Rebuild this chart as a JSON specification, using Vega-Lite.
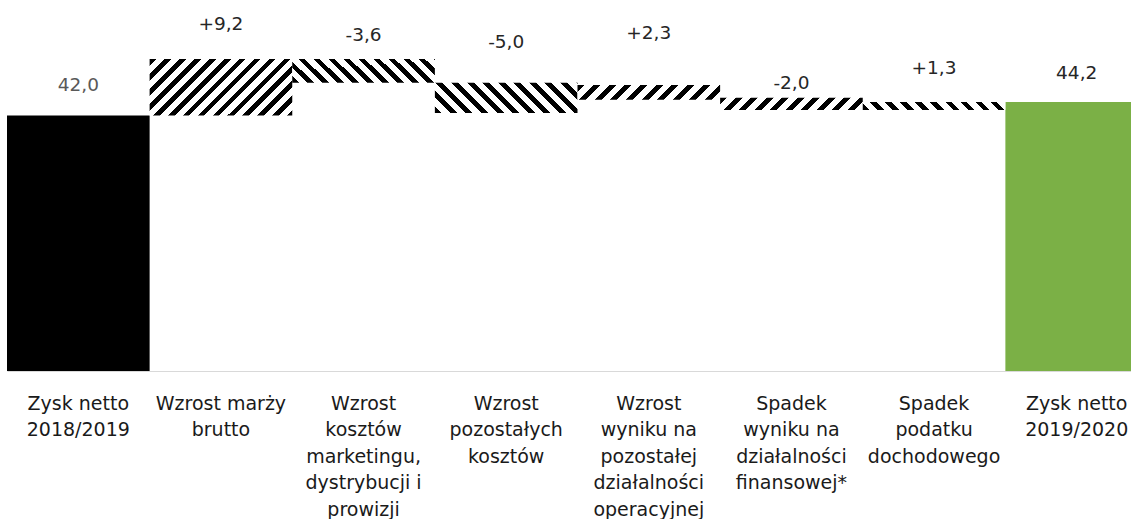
{
  "$schema": "https://vega.github.io/schema/vega-lite/v6.json",
  "width": 1141,
  "height": 365,
  "padding": {"left": 7, "top": 6, "right": 0, "bottom": 0},
  "background": "white",
  "config": {"view": {"stroke": null}, "axis": {"grid": false}},
  "params": [
    {"name": "st10", "value": [
      {"offset":0,"color":"#000"},{"offset":0.045,"color":"#000"},{"offset":0.045,"color":"#fff"},{"offset":0.1,"color":"#fff"},
      {"offset":0.1,"color":"#000"},{"offset":0.145,"color":"#000"},{"offset":0.145,"color":"#fff"},{"offset":0.2,"color":"#fff"},
      {"offset":0.2,"color":"#000"},{"offset":0.245,"color":"#000"},{"offset":0.245,"color":"#fff"},{"offset":0.3,"color":"#fff"},
      {"offset":0.3,"color":"#000"},{"offset":0.345,"color":"#000"},{"offset":0.345,"color":"#fff"},{"offset":0.4,"color":"#fff"},
      {"offset":0.4,"color":"#000"},{"offset":0.445,"color":"#000"},{"offset":0.445,"color":"#fff"},{"offset":0.5,"color":"#fff"},
      {"offset":0.5,"color":"#000"},{"offset":0.545,"color":"#000"},{"offset":0.545,"color":"#fff"},{"offset":0.6,"color":"#fff"},
      {"offset":0.6,"color":"#000"},{"offset":0.645,"color":"#000"},{"offset":0.645,"color":"#fff"},{"offset":0.7,"color":"#fff"},
      {"offset":0.7,"color":"#000"},{"offset":0.745,"color":"#000"},{"offset":0.745,"color":"#fff"},{"offset":0.8,"color":"#fff"},
      {"offset":0.8,"color":"#000"},{"offset":0.845,"color":"#000"},{"offset":0.845,"color":"#fff"},{"offset":0.9,"color":"#fff"},
      {"offset":0.9,"color":"#000"},{"offset":0.945,"color":"#000"},{"offset":0.945,"color":"#fff"},{"offset":1,"color":"#fff"}
    ]},
    {"name": "st09", "value": [
      {"offset":0,"color":"#000"},{"offset":0.04,"color":"#000"},{"offset":0.04,"color":"#fff"},{"offset":0.09,"color":"#fff"},
      {"offset":0.09,"color":"#000"},{"offset":0.13,"color":"#000"},{"offset":0.13,"color":"#fff"},{"offset":0.18,"color":"#fff"},
      {"offset":0.18,"color":"#000"},{"offset":0.22,"color":"#000"},{"offset":0.22,"color":"#fff"},{"offset":0.27,"color":"#fff"},
      {"offset":0.27,"color":"#000"},{"offset":0.31,"color":"#000"},{"offset":0.31,"color":"#fff"},{"offset":0.36,"color":"#fff"},
      {"offset":0.36,"color":"#000"},{"offset":0.4,"color":"#000"},{"offset":0.4,"color":"#fff"},{"offset":0.45,"color":"#fff"},
      {"offset":0.45,"color":"#000"},{"offset":0.49,"color":"#000"},{"offset":0.49,"color":"#fff"},{"offset":0.54,"color":"#fff"},
      {"offset":0.54,"color":"#000"},{"offset":0.58,"color":"#000"},{"offset":0.58,"color":"#fff"},{"offset":0.63,"color":"#fff"},
      {"offset":0.63,"color":"#000"},{"offset":0.67,"color":"#000"},{"offset":0.67,"color":"#fff"},{"offset":0.72,"color":"#fff"},
      {"offset":0.72,"color":"#000"},{"offset":0.76,"color":"#000"},{"offset":0.76,"color":"#fff"},{"offset":0.81,"color":"#fff"},
      {"offset":0.81,"color":"#000"},{"offset":0.85,"color":"#000"},{"offset":0.85,"color":"#fff"},{"offset":0.9,"color":"#fff"},
      {"offset":0.9,"color":"#000"},{"offset":0.94,"color":"#000"},{"offset":0.94,"color":"#fff"},{"offset":0.99,"color":"#fff"},
      {"offset":0.99,"color":"#000"},{"offset":1,"color":"#000"}
    ]},
    {"name": "st75", "value": [
      {"offset":0,"color":"#000"},{"offset":0.034,"color":"#000"},{"offset":0.034,"color":"#fff"},{"offset":0.075,"color":"#fff"},
      {"offset":0.075,"color":"#000"},{"offset":0.109,"color":"#000"},{"offset":0.109,"color":"#fff"},{"offset":0.15,"color":"#fff"},
      {"offset":0.15,"color":"#000"},{"offset":0.184,"color":"#000"},{"offset":0.184,"color":"#fff"},{"offset":0.225,"color":"#fff"},
      {"offset":0.225,"color":"#000"},{"offset":0.259,"color":"#000"},{"offset":0.259,"color":"#fff"},{"offset":0.3,"color":"#fff"},
      {"offset":0.3,"color":"#000"},{"offset":0.334,"color":"#000"},{"offset":0.334,"color":"#fff"},{"offset":0.375,"color":"#fff"},
      {"offset":0.375,"color":"#000"},{"offset":0.409,"color":"#000"},{"offset":0.409,"color":"#fff"},{"offset":0.45,"color":"#fff"},
      {"offset":0.45,"color":"#000"},{"offset":0.484,"color":"#000"},{"offset":0.484,"color":"#fff"},{"offset":0.525,"color":"#fff"},
      {"offset":0.525,"color":"#000"},{"offset":0.559,"color":"#000"},{"offset":0.559,"color":"#fff"},{"offset":0.6,"color":"#fff"},
      {"offset":0.6,"color":"#000"},{"offset":0.634,"color":"#000"},{"offset":0.634,"color":"#fff"},{"offset":0.675,"color":"#fff"},
      {"offset":0.675,"color":"#000"},{"offset":0.709,"color":"#000"},{"offset":0.709,"color":"#fff"},{"offset":0.75,"color":"#fff"},
      {"offset":0.75,"color":"#000"},{"offset":0.784,"color":"#000"},{"offset":0.784,"color":"#fff"},{"offset":0.825,"color":"#fff"},
      {"offset":0.825,"color":"#000"},{"offset":0.859,"color":"#000"},{"offset":0.859,"color":"#fff"},{"offset":0.9,"color":"#fff"},
      {"offset":0.9,"color":"#000"},{"offset":0.934,"color":"#000"},{"offset":0.934,"color":"#fff"},{"offset":0.975,"color":"#fff"},
      {"offset":0.975,"color":"#000"},{"offset":1,"color":"#000"}
    ]}
  ],
  "data": {"values": [
    {"id": 1, "cat": "Zysk netto|2018/2019", "start": 0, "end": 42.0, "label": "42,0", "ly": 47.0},
    {"id": 2, "cat": "Wzrost marży|brutto", "start": 42.0, "end": 51.3, "label": "+9,2", "ly": 57.0},
    {"id": 3, "cat": "Wzrost|kosztów|marketingu,|dystrybucji i|prowizji", "start": 51.3, "end": 47.4, "label": "-3,6", "ly": 55.2},
    {"id": 4, "cat": "Wzrost|pozostałych|kosztów", "start": 47.4, "end": 42.4, "label": "-5,0", "ly": 54.1},
    {"id": 5, "cat": "Wzrost|wyniku na|pozostałej|działalności|operacyjnej", "start": 44.6, "end": 47.0, "label": "+2,3", "ly": 55.6},
    {"id": 6, "cat": "Spadek|wyniku na|działalności|finansowej*", "start": 44.9, "end": 42.9, "label": "-2,0", "ly": 47.3},
    {"id": 7, "cat": "Spadek|podatku|dochodowego", "start": 42.9, "end": 44.2, "label": "+1,3", "ly": 49.8},
    {"id": 8, "cat": "Zysk netto|2019/2020", "start": 0, "end": 44.2, "label": "44,2", "ly": 49.0}
  ]},
  "encoding": {
    "x": {
      "field": "cat", "type": "nominal", "sort": null,
      "scale": {
        "domain": ["Zysk netto|2018/2019", "Wzrost marży|brutto", "Wzrost|kosztów|marketingu,|dystrybucji i|prowizji", "Wzrost|pozostałych|kosztów", "Wzrost|wyniku na|pozostałej|działalności|operacyjnej", "Spadek|wyniku na|działalności|finansowej*", "Spadek|podatku|dochodowego", "Zysk netto|2019/2020"],
        "paddingInner": 0, "paddingOuter": 0
      },
      "axis": {
        "title": null, "labelAngle": 0, "ticks": false, "domainColor": "#d9d9d9", "domainWidth": 1,
        "labelExpr": "split(datum.value, '|')", "labelFont": "DejaVu Sans", "labelFontSize": 19,
        "labelColor": "#1a1a1a", "labelLineHeight": 26.5, "labelPadding": 23, "labelOverlap": false,
        "labelBound": false, "labelLimit": 0
      }
    }
  },
  "layer": [
    {
      "transform": [{"filter": "datum.id == 1 || datum.id == 8"}],
      "mark": {"type": "bar"},
      "encoding": {
        "y": {"field": "start", "type": "quantitative", "scale": {"domain": [0, 60], "nice": false}, "axis": null},
        "y2": {"field": "end"},
        "fill": {"condition": {"test": "datum.id == 1", "value": "#000000"}, "value": "#7bb046"}
      }
    },
    {
      "transform": [{"filter": "datum.id == 2"}],
      "mark": {"type": "bar", "fill": {"expr": "{gradient: 'linear', x1: 0, y1: 0, x2: 1.2068, y2: 0.479, stops: st75}"}},
      "encoding": {"y": {"field": "start", "type": "quantitative"}, "y2": {"field": "end"}}
    },
    {
      "transform": [{"filter": "datum.id == 3"}],
      "mark": {"type": "bar", "fill": {"expr": "{gradient: 'linear', x1: 0, y1: 1, x2: 1.1374, y2: 0.8062, stops: st09}"}},
      "encoding": {"y": {"field": "start", "type": "quantitative"}, "y2": {"field": "end"}}
    },
    {
      "transform": [{"filter": "datum.id == 4"}],
      "mark": {"type": "bar", "fill": {"expr": "{gradient: 'linear', x1: 0, y1: 1, x2: 1.1605, y2: 0.7526, stops: st09}"}},
      "encoding": {"y": {"field": "start", "type": "quantitative"}, "y2": {"field": "end"}}
    },
    {
      "transform": [{"filter": "datum.id == 5"}],
      "mark": {"type": "bar", "fill": {"expr": "{gradient: 'linear', x1: 0, y1: 0, x2: 1.091, y2: 0.1117, stops: st10}"}},
      "encoding": {"y": {"field": "start", "type": "quantitative"}, "y2": {"field": "end"}}
    },
    {
      "transform": [{"filter": "datum.id == 6"}],
      "mark": {"type": "bar", "fill": {"expr": "{gradient: 'linear', x1: 0, y1: 0, x2: 1.0775, y2: 0.092, stops: st10}"}},
      "encoding": {"y": {"field": "start", "type": "quantitative"}, "y2": {"field": "end"}}
    },
    {
      "transform": [{"filter": "datum.id == 7"}],
      "mark": {"type": "bar", "fill": {"expr": "{gradient: 'linear', x1: 0, y1: 1, x2: 1.0522, y2: 0.9416, stops: st10}"}},
      "encoding": {"y": {"field": "start", "type": "quantitative"}, "y2": {"field": "end"}}
    },
    {
      "mark": {"type": "text", "font": "DejaVu Sans", "fontSize": 18.5, "baseline": "middle", "align": "center"},
      "encoding": {
        "y": {"field": "ly", "type": "quantitative"},
        "text": {"field": "label"},
        "color": {"condition": {"test": "datum.id == 1", "value": "#595959"}, "value": "#262626"}
      }
    }
  ]
}
